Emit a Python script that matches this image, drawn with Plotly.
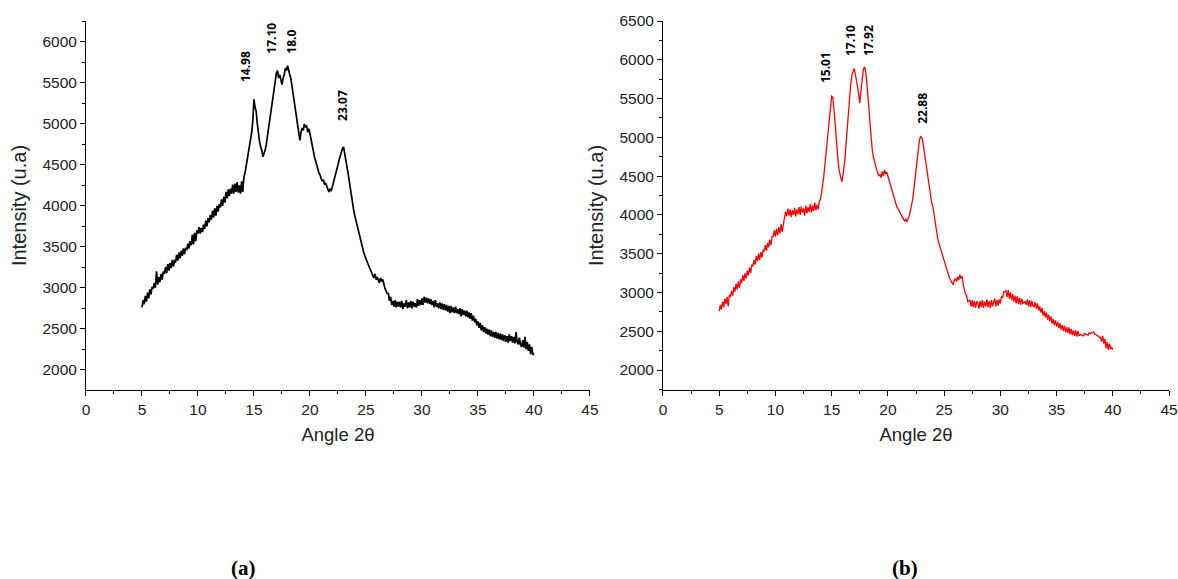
import numpy as np
import plotly.graph_objects as go

# 2-theta sampling grid (degrees), 5.0 .. 40.0 step 0.1
angle = np.round(np.arange(5.0, 40.05, 0.1), 1)

intensity_a = [
    2760, 2850, 2800, 2900, 2830, 2940, 2870, 2980, 2920, 3010,
    2990, 3060, 3000, 3200, 3040, 3130, 3070, 3170, 3100, 3200,
    3170, 3250, 3180, 3290, 3210, 3300, 3240, 3340, 3260, 3330,
    3320, 3400, 3330, 3430, 3360, 3450, 3390, 3480, 3410, 3490,
    3460, 3540, 3480, 3570, 3520, 3650, 3530, 3670, 3570, 3700,
    3660, 3740, 3660, 3730, 3680, 3770, 3720, 3820, 3750, 3850,
    3800, 3890, 3830, 3940, 3860, 3970, 3880, 4000, 3930, 4020,
    3980, 4080, 4000, 4110, 4040, 4170, 4090, 4200, 4120, 4210,
    4150, 4260, 4150, 4270, 4170, 4290, 4160, 4250, 4150, 4300,
    4170, 4350, 4400, 4480, 4560, 4650, 4700, 4800, 4900, 5050,
    5300, 5200, 5150, 5000, 4850, 4780, 4720, 4680, 4600, 4640,
    4680, 4750, 4850, 4950, 5050, 5180, 5280, 5380, 5480, 5550,
    5620, 5650, 5560, 5600, 5520, 5480, 5560, 5600, 5680, 5650,
    5710, 5640, 5600, 5550, 5450, 5350, 5250, 5150, 5050, 4950,
    4850, 4800, 4900, 4950, 4920, 5000, 4960, 4980, 4900, 4940,
    4880, 4800, 4750, 4650, 4600, 4550, 4480, 4450, 4400, 4380,
    4330, 4300, 4320, 4260, 4280, 4230, 4200, 4170, 4210, 4180,
    4230, 4280, 4320, 4380, 4450, 4500, 4560, 4620, 4680, 4700,
    4720, 4620, 4560, 4480, 4400, 4300, 4220, 4120, 4050, 3950,
    3880, 3820, 3760, 3700, 3640, 3580, 3540, 3480, 3430, 3390,
    3350, 3310, 3280, 3250, 3220, 3180, 3150, 3120, 3170, 3100,
    3130, 3090, 3060, 3120, 3080, 3100, 3020, 2990, 2960, 2930,
    2930, 2840, 2890, 2790, 2840, 2770, 2850, 2760, 2830, 2770,
    2830, 2760, 2840, 2740, 2810, 2770, 2850, 2750, 2820, 2760,
    2840, 2750, 2830, 2770, 2810, 2760, 2860, 2780, 2850, 2790,
    2870, 2790, 2890, 2820, 2880, 2810, 2870, 2800, 2860, 2790,
    2840, 2760, 2850, 2770, 2810, 2750, 2820, 2740, 2810, 2730,
    2800, 2720, 2790, 2710, 2780, 2690, 2780, 2700, 2760, 2690,
    2770, 2690, 2740, 2680, 2750, 2650, 2740, 2670, 2720, 2650,
    2720, 2640, 2700, 2620, 2690, 2600, 2660, 2580, 2620, 2540,
    2590, 2510, 2570, 2480, 2540, 2460, 2520, 2440, 2500, 2430,
    2490, 2410, 2480, 2400, 2460, 2390, 2460, 2380, 2450, 2370,
    2440, 2360, 2430, 2350, 2420, 2340, 2410, 2330, 2430, 2350,
    2410, 2330, 2400, 2320, 2460, 2340, 2310, 2390, 2300, 2280,
    2360, 2270, 2400, 2250, 2340, 2230, 2310, 2190, 2280, 2180,
    2200,
]

intensity_b = [
    2760, 2840, 2780, 2880, 2810, 2920, 2850, 2940, 2820, 2970,
    2940, 3020, 2960, 3070, 3010, 3110, 3040, 3140, 3060, 3170,
    3120, 3220, 3150, 3250, 3180, 3280, 3220, 3320, 3250, 3360,
    3340, 3420, 3360, 3470, 3400, 3500, 3420, 3520, 3450, 3550,
    3530, 3610, 3540, 3640, 3580, 3680, 3610, 3720, 3720, 3800,
    3720, 3820, 3740, 3840, 3760, 3880, 3780, 3900, 3960, 4040,
    3980, 4080, 3990, 4070, 3970, 4060, 4000, 4090, 3980, 4070,
    4010, 4100, 4000, 4110, 4030, 4080, 3990, 4120, 4020, 4100,
    4040, 4140, 4030, 4120, 4050, 4160, 4060, 4130, 4070, 4170,
    4200, 4280, 4380, 4500, 4650, 4800, 4980, 5150, 5320, 5450,
    5530, 5520, 5380, 5200, 5000, 4800, 4650, 4550, 4480, 4430,
    4500, 4600, 4750, 4950, 5150, 5350, 5550, 5700, 5800, 5850,
    5890, 5820, 5750, 5650, 5550, 5440, 5600, 5750, 5850, 5910,
    5880, 5750, 5600, 5400, 5200, 5000, 4850, 4750, 4680, 4620,
    4580, 4540, 4500, 4520, 4480, 4560, 4500, 4580, 4530, 4550,
    4500, 4420, 4380, 4320, 4280, 4240, 4200, 4150, 4100, 4080,
    4050, 4020, 3980, 3960, 3940, 3920, 3950, 3910, 3940, 3990,
    4050, 4120, 4200, 4320, 4450, 4600, 4750, 4870, 4960, 5010,
    5000, 4950, 4850, 4750, 4620, 4500, 4400, 4300, 4200, 4150,
    4110, 4000, 3900, 3800, 3720, 3650, 3600, 3540, 3500, 3460,
    3400, 3350, 3300, 3250, 3220, 3180, 3150, 3120, 3100, 3150,
    3180, 3140, 3200, 3160, 3230, 3180, 3210, 3100, 3020, 2980,
    2960, 2880, 2890, 2900, 2820, 2900, 2810, 2890, 2800, 2880,
    2870, 2790, 2890, 2810, 2900, 2800, 2880, 2820, 2910, 2810,
    2890, 2800, 2900, 2820, 2880, 2920, 2820, 2900, 2830, 2910,
    2860, 2950, 2930, 3010, 3010, 3020, 2940, 3030, 2920, 3000,
    2900, 2980, 2880, 2960, 2860, 2950, 2850, 2930, 2840, 2920,
    2860, 2870, 2880, 2840, 2910, 2820, 2900, 2810, 2890, 2830,
    2810, 2880, 2790, 2860, 2770, 2820, 2740, 2800, 2700, 2760,
    2680, 2740, 2650, 2710, 2630, 2690, 2600, 2660, 2580, 2640,
    2560, 2620, 2540, 2600, 2520, 2580, 2500, 2570, 2490, 2550,
    2480, 2550, 2460, 2530, 2450, 2510, 2440, 2510, 2430, 2500,
    2440, 2460, 2450, 2450, 2440, 2470, 2460, 2460, 2450, 2480,
    2470, 2480, 2480, 2490, 2460, 2460, 2440, 2440, 2420, 2420,
    2370, 2440, 2340, 2400, 2280, 2360, 2260, 2340, 2270, 2290,
    2260,
]

peak_labels_a = ["14.98", "17.10", "18.0", "23.07"]
peak_label_x_a = [14.29, 16.58, 18.37, 22.95]
peak_label_y_a = [5695, 6049, 6000, 5219]

peak_labels_b = ["15.01", "17.10", "17.92", "22.88"]
peak_label_x_b = [14.41, 16.63, 18.23, 23.01]
peak_label_y_b = [5894, 6255, 6255, 5378]

x_ticks = [0, 5, 10, 15, 20, 25, 30, 35, 40, 45]
y_ticks_a = [2000, 2500, 3000, 3500, 4000, 4500, 5000, 5500, 6000]
y_ticks_b = [2000, 2500, 3000, 3500, 4000, 4500, 5000, 5500, 6000, 6500]

fig = go.Figure()
fig.add_trace(go.Scatter(x=angle, y=intensity_a, mode="lines",
                         line=dict(color="black", width=1.7),
                         xaxis="x", yaxis="y", showlegend=False))
fig.add_trace(go.Scatter(x=angle, y=intensity_b, mode="lines",
                         line=dict(color="#ff0000", width=1.3),
                         xaxis="x2", yaxis="y2", showlegend=False))

tick_font = dict(family="Arial, Liberation Sans, sans-serif", size=15.5, color="#222")
xtitle_font = dict(family="Arial, Liberation Sans, sans-serif", size=18.5, color="#222")
ytitle_font = dict(family="Arial, Liberation Sans, sans-serif", size=20, color="#222")

def xaxis_cfg(domain, anchor):
    return dict(domain=domain, anchor=anchor, range=[0, 45], tickvals=x_ticks,
                automargin=False,
                showgrid=False, zeroline=False, showline=True, linecolor="black",
                linewidth=1, ticks="outside", ticklen=5, tickcolor="black",
                tickfont=tick_font,
                minor=dict(dtick=2.5, tick0=0, ticks="outside", ticklen=3, tickcolor="black"),
                title=dict(text="Angle 2θ", font=xtitle_font, standoff=11))

def yaxis_cfg(domain, anchor, rng, tick_vals):
    return dict(domain=domain, anchor=anchor, range=rng, tickvals=tick_vals,
                automargin=False,
                showgrid=False, zeroline=False, showline=True, linecolor="black",
                linewidth=1, ticks="outside", ticklen=5, tickcolor="black",
                tickfont=tick_font,
                minor=dict(dtick=250, tick0=0, ticks="outside", ticklen=3, tickcolor="black"),
                title=dict(text="Intensity (u.a)", font=ytitle_font, standoff=10))

ydom = [0.3264, 0.9637]
fig.update_layout(
    width=1178, height=579,
    margin=dict(l=0, r=0, t=0, b=0),
    paper_bgcolor="white", plot_bgcolor="white",
    xaxis=xaxis_cfg([0.0730, 0.5008], "y"),
    yaxis=yaxis_cfg(ydom, "x", [1752, 6256], y_ticks_a),
    xaxis2=xaxis_cfg([0.5628, 0.9924], "y2"),
    yaxis2=yaxis_cfg(ydom, "x2", [1742, 6500], y_ticks_b),
)

ann = []
lab_font = dict(family="Noto Sans, Open Sans, sans-serif", size=12, color="black")
for t, x, y in zip(peak_labels_a, peak_label_x_a, peak_label_y_a):
    ann.append(dict(text="<b>" + t + "</b>", x=x, y=y, xref="x", yref="y",
                    textangle=-90, showarrow=False, font=lab_font,
                    xanchor="center", yanchor="middle"))
for t, x, y in zip(peak_labels_b, peak_label_x_b, peak_label_y_b):
    ann.append(dict(text="<b>" + t + "</b>", x=x, y=y, xref="x2", yref="y2",
                    textangle=-90, showarrow=False, font=lab_font,
                    xanchor="center", yanchor="middle"))

panel_font = dict(family="Liberation Serif, DejaVu Serif, serif", size=21, color="black")
ann.append(dict(text="<b>(a)</b>", x=243 / 1178, y=1 - 568 / 579, xref="paper", yref="paper",
                showarrow=False, font=panel_font, xanchor="center", yanchor="middle"))
ann.append(dict(text="<b>(b)</b>", x=905 / 1178, y=1 - 568 / 579, xref="paper", yref="paper",
                showarrow=False, font=panel_font, xanchor="center", yanchor="middle"))
fig.update_layout(annotations=ann)

fig.write_html("out.html")
